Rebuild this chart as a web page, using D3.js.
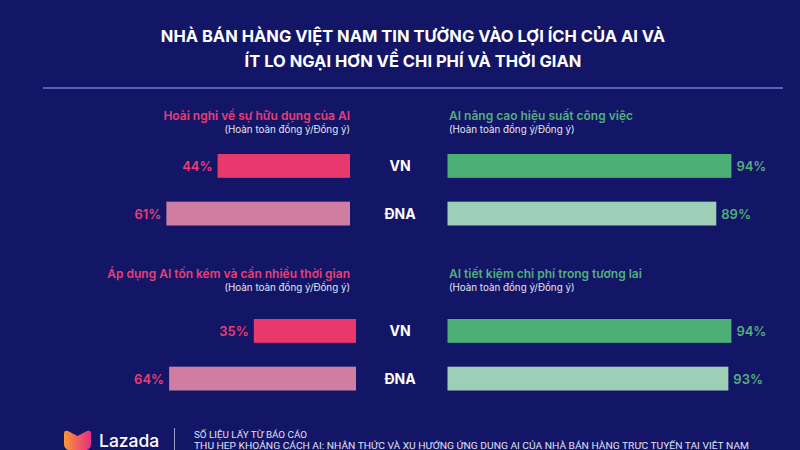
<!DOCTYPE html>
<html>
<head>
<meta charset="utf-8">
<script src="https://cdn.jsdelivr.net/npm/d3@7/dist/d3.min.js"></script>
<style>
  html, body { margin: 0; padding: 0; background: #131567; }
  svg { display: block; }
</style>
</head>
<body>
<svg id="chart" width="800" height="450"></svg>
<script>
// ---------- DATA ----------
const titleLines = [
  "NHÀ BÁN HÀNG VIỆT NAM TIN TƯỞNG VÀO LỢI ÍCH CỦA AI VÀ",
  "ÍT LO NGẠI HƠN VỀ CHI PHÍ VÀ THỜI GIAN"
];
const groups = ["VN", "ĐNA"];
const leftTitles = ["Hoài nghi về sự hữu dụng của AI", "Áp dụng AI tốn kém và cần nhiều thời gian"];
const rightTitles = ["AI nâng cao hiệu suất công việc", "AI tiết kiệm chi phí trong tương lai"];
const subtitle = "(Hoàn toàn đồng ý/Đồng ý)";
const skepticism = [44, 61];     // VN, ĐNA
const costConcern = [35, 64];    // VN, ĐNA
const productivity = [94, 89];   // VN, ĐNA
const costSaving = [94, 93];     // VN, ĐNA
const sourceLines = [
  "SỐ LIỆU LẤY TỪ BÁO CÁO",
  "THU HẸP KHOẢNG CÁCH AI: NHẬN THỨC VÀ XU HƯỚNG ỨNG DỤNG AI CỦA NHÀ BÁN HÀNG TRỰC TUYẾN TẠI VIỆT NAM"
];
const brand = "Lazada";

// ---------- STYLE ----------
const FONT = "Inter, 'Open Sans', sans-serif";
const pinkColors = ["#e8386c", "#cf7ea2"];
const greenColors = ["#4caf76", "#9dcfb6"];
const pinkText = "#ea3f74";
const greenText = "#51b07c";

const svg = d3.select("#chart");
svg.append("rect").attr("width", 800).attr("height", 450).attr("fill", "#131567");

// Title
svg.append("g").selectAll("text").data(titleLines).join("text")
  .attr("x", 413).attr("y", (d, i) => 42 + i * 25)
  .attr("text-anchor", "middle")
  .attr("font-family", FONT).attr("font-weight", 700).attr("font-size", 16.5)
  .attr("fill", "#ffffff")
  .text(d => d);

svg.append("line").attr("x1", 43).attr("x2", 783).attr("y1", 88).attr("y2", 88)
  .attr("stroke", "#5b5db6").attr("stroke-width", 2);

// Panels
const panels = [
  { left: skepticism, right: productivity, lt: leftTitles[0], rt: rightTitles[0],
    titleY: 120, yRange: [154, 225.5], lRange: [350, 49] },
  { left: costConcern, right: costSaving, lt: leftTitles[1], rt: rightTitles[1],
    titleY: 278, yRange: [319, 390.5], lRange: [356, 64] }
];
const xRight = d3.scaleLinear().domain([0, 100]).range([447.5, 749.5]);

panels.forEach(p => {
  const g = svg.append("g");
  const y = d3.scaleBand().domain(groups).range(p.yRange).paddingInner(0.5);
  const xLeft = d3.scaleLinear().domain([0, 100]).range(p.lRange);

  // headings
  g.append("text").attr("x", 350).attr("y", p.titleY).attr("text-anchor", "end")
    .attr("font-family", FONT).attr("font-weight", 600).attr("font-size", 12)
    .attr("fill", pinkText).text(p.lt);
  g.append("text").attr("x", 350).attr("y", p.titleY + 13).attr("text-anchor", "end")
    .attr("font-family", FONT).attr("font-size", 9.8)
    .attr("fill", "#e4e4f2").text(subtitle);
  g.append("text").attr("x", 449).attr("y", p.titleY).attr("text-anchor", "start")
    .attr("font-family", FONT).attr("font-weight", 600).attr("font-size", 12)
    .attr("fill", greenText).text(p.rt);
  g.append("text").attr("x", 449).attr("y", p.titleY + 13).attr("text-anchor", "start")
    .attr("font-family", FONT).attr("font-size", 9.8)
    .attr("fill", "#e4e4f2").text(subtitle);

  // left bars
  g.selectAll(".lb").data(p.left).join("rect")
    .attr("x", d => xLeft(d)).attr("width", d => xLeft(0) - xLeft(d))
    .attr("y", (d, i) => y(groups[i])).attr("height", y.bandwidth())
    .attr("fill", (d, i) => pinkColors[i]);
  g.selectAll(".ll").data(p.left).join("text")
    .attr("x", d => xLeft(d) - 5).attr("y", (d, i) => y(groups[i]) + y.bandwidth() / 2 + 5)
    .attr("text-anchor", "end")
    .attr("font-family", FONT).attr("font-weight", 600).attr("font-size", 13)
    .attr("fill", pinkText).text(d => d + "%");

  // right bars
  g.selectAll(".rb").data(p.right).join("rect")
    .attr("x", xRight(0)).attr("width", d => xRight(d) - xRight(0))
    .attr("y", (d, i) => y(groups[i])).attr("height", y.bandwidth())
    .attr("fill", (d, i) => greenColors[i]);
  g.selectAll(".rl").data(p.right).join("text")
    .attr("x", d => xRight(d) + 5).attr("y", (d, i) => y(groups[i]) + y.bandwidth() / 2 + 5)
    .attr("text-anchor", "start")
    .attr("font-family", FONT).attr("font-weight", 600).attr("font-size", 13)
    .attr("fill", greenText).text(d => d + "%");

  // centre labels
  g.selectAll(".cl").data(groups).join("text")
    .attr("x", 400).attr("y", d => y(d) + y.bandwidth() / 2 + 5)
    .attr("text-anchor", "middle")
    .attr("font-family", FONT).attr("font-weight", 700).attr("font-size", 14)
    .attr("fill", "#ffffff").text(d => d);
});

// Footer
const defs = svg.append("defs");
const grad = defs.append("linearGradient").attr("id", "lzd").attr("x1", "0").attr("x2", "1").attr("y1", "0").attr("y2", "0");
grad.append("stop").attr("offset", "0%").attr("stop-color", "#f79a35");
grad.append("stop").attr("offset", "55%").attr("stop-color", "#f05a62");
grad.append("stop").attr("offset", "100%").attr("stop-color", "#e52f86");

svg.append("path")
  .attr("d", "M64,434 Q64,429.5 68,431 L77.5,436 L87,431 Q91,429.5 91,434 L91,444 Q91,448 87,450 L80,453 Q77.5,454 75,453 L68,450 Q64,448 64,444 Z")
  .attr("fill", "url(#lzd)");
svg.append("text").attr("x", 99).attr("y", 447)
  .attr("font-family", FONT).attr("font-weight", 500).attr("font-size", 17.5)
  .attr("fill", "#ffffff").text(brand);
svg.append("line").attr("x1", 174.5).attr("x2", 174.5).attr("y1", 428).attr("y2", 450)
  .attr("stroke", "#9a9ccc").attr("stroke-width", 1);
svg.append("g").selectAll("text").data(sourceLines).join("text")
  .attr("x", 194).attr("y", (d, i) => 438 + i * 10.5)
  .attr("font-family", "'Liberation Sans Narrow', 'Roboto', sans-serif").attr("font-size", 9.5)
  .attr("fill", "#e0e0f0")
  .attr("textLength", (d, i) => [113, 555][i]).attr("lengthAdjust", "spacingAndGlyphs")
  .text(d => d);
</script>
</body>
</html>
